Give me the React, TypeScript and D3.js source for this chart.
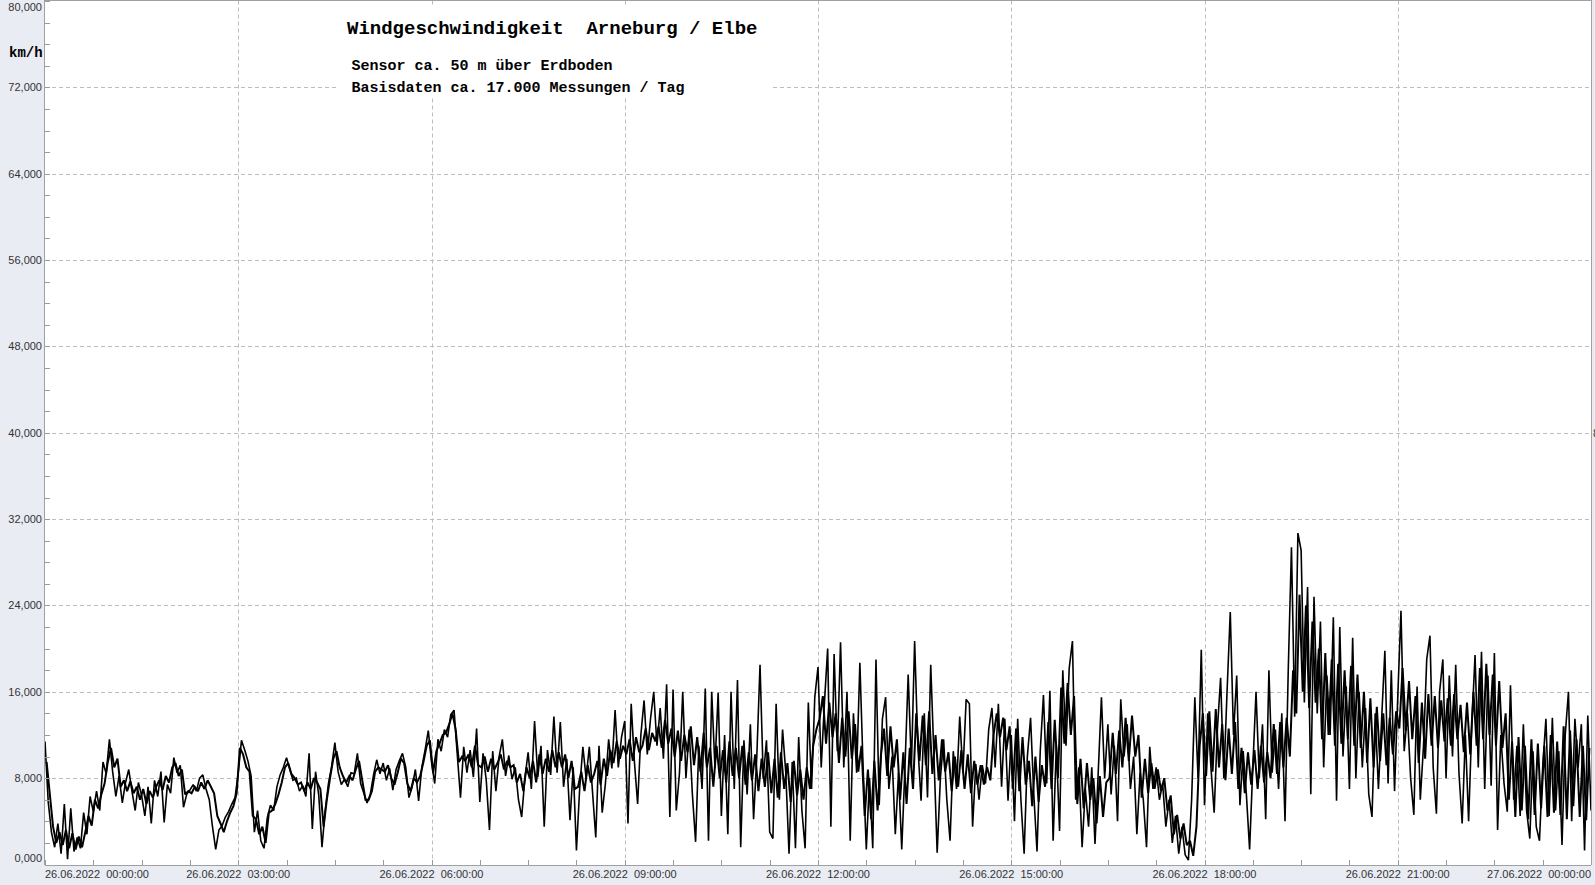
import React from 'react';
import * as d3 from 'd3';

// Sampling step of the series (hours)
const STEP_H = 0.05;
// The second pass of readings sits half a step later
const OFFSET_B_H = 0.025;

// Wind speed km/h (extremes / spike tips), one value per 0.05 h
const speed00_03 = [
  11.4, 5.8, 3.0, 1.6, 3.8, 1.0, 5.6, 0.5, 5.2, 1.2,
  2.5, 1.5, 4.8, 2.8, 6.3, 4.9, 6.8, 5.0, 9.5, 8.4,
  11.6, 8.6, 6.3, 8.2, 5.7, 7.6, 8.8, 6.8, 5.0, 7.6,
  6.4, 4.5, 7.2, 3.8, 7.8, 6.3, 8.6, 3.9, 7.4, 6.6,
  9.9, 8.5, 9.2, 5.3, 6.5, 6.9, 7.4, 6.8, 8.0, 8.3,
  7.0, 6.0, 3.5, 1.4, 3.2, 3.6, 4.4, 4.9, 5.6, 6.2,
];
const speed03_06 = [
  8.5, 11.5, 10.6, 9.6, 8.2, 3.0, 5.0, 2.2, 1.5, 4.3,
  5.5, 5.0, 7.2, 8.3, 9.0, 9.9, 8.8, 7.8, 8.0, 6.8,
  7.3, 6.3, 10.3, 3.3, 8.6, 6.4, 1.6, 5.0, 7.5, 9.1,
  11.3, 8.6, 7.4, 7.9, 7.2, 8.5, 8.4, 10.3, 7.5, 6.6,
  5.7, 6.5, 8.3, 9.7, 8.4, 9.4, 7.8, 8.9, 6.9, 8.8,
  9.6, 10.3, 9.0, 6.2, 7.2, 8.8, 5.9, 9.0, 10.6, 12.4,
];
const speed06_09 = [
  9.5, 7.5, 11.6, 10.5, 12.5, 11.8, 13.9, 14.3, 10.2, 6.2,
  10.9, 8.5, 10.6, 8.1, 12.6, 5.8, 10.3, 7.8, 3.2, 10.5,
  6.8, 10.0, 11.6, 8.2, 10.1, 7.9, 9.0, 6.0, 4.4, 8.0,
  10.4, 7.0, 13.3, 8.1, 11.0, 3.5, 10.6, 8.3, 13.7, 8.5,
  13.2, 7.2, 9.8, 4.1, 9.0, 1.3, 7.0, 10.9, 8.0, 10.9,
  6.7, 2.5, 11.0, 4.8, 7.5, 11.6, 8.9, 14.3, 9.0, 11.8,
];
const speed09_12 = [
  13.3, 3.8, 14.9, 9.5, 5.6, 12.0, 15.2, 10.2, 13.5, 16.0,
  11.0, 14.5, 9.8, 16.7, 4.4, 16.2, 5.0, 8.5, 16.0, 8.0,
  12.5, 6.5, 2.1, 11.0, 7.0, 16.3, 2.2, 16.0, 9.0, 15.9,
  4.5, 12.0, 2.8, 16.0, 7.0, 17.1, 1.6, 11.5, 6.5, 13.0,
  4.2, 10.0, 18.5, 8.0, 11.5, 3.0, 2.4, 14.9, 6.0, 12.5,
  8.5, 1.0, 9.5, 1.5, 11.8, 5.0, 1.5, 15.0, 7.0, 15.5,
];
const speed12_15 = [
  18.3, 9.0, 15.0, 20.0, 3.5, 19.5, 10.5, 20.6, 9.0, 16.0,
  2.2, 14.0, 8.5, 18.7, 9.0, 1.4, 8.0, 1.5, 19.0, 5.5,
  13.5, 15.5, 7.0, 10.0, 2.8, 8.5, 1.4, 9.0, 17.6, 9.0,
  20.7, 11.0, 5.9, 14.0, 6.2, 18.5, 10.0, 1.1, 8.0, 11.6,
  6.0, 2.2, 10.5, 7.0, 13.7, 8.5, 15.3, 14.9, 3.5, 9.3,
  6.0, 9.2, 7.5, 12.5, 14.5, 9.0, 14.9, 7.2, 13.5, 5.9,
];
const speed15_18 = [
  12.0, 4.0, 13.5, 6.0, 1.0, 10.0, 13.6, 6.5, 1.2, 10.5,
  15.7, 7.5, 16.1, 2.2, 11.0, 3.1, 18.0, 11.0, 18.2, 20.7,
  6.0, 9.0, 1.6, 7.0, 3.5, 9.0, 1.9, 8.5, 15.5, 8.0,
  13.0, 6.5, 11.0, 4.0, 15.3, 10.0, 13.0, 7.0, 10.0, 2.8,
  8.5, 6.0, 1.6, 10.9, 7.0, 9.0, 6.0, 7.5, 3.5, 6.0,
  2.0, 4.5, 1.0, 3.5, 0.9, 0.4, 6.0, 15.5, 8.0, 19.9,
];
const speed18_21 = [
  5.5, 14.0, 9.0, 4.8, 12.5, 17.3, 8.0, 16.0, 23.4, 12.0,
  17.5, 5.5, 10.5, 6.5, 1.4, 9.0, 16.0, 8.0, 13.0, 4.2,
  18.0, 8.5, 12.5, 7.0, 14.0, 4.0, 18.0, 29.4, 13.7, 30.7,
  29.1, 15.0, 25.7, 6.5, 24.8, 14.0, 22.5, 9.0, 17.5, 12.0,
  22.9, 5.9, 22.0, 10.0, 16.5, 7.0, 21.0, 8.0, 16.0, 9.0,
  14.5, 6.5, 4.4, 14.0, 7.0, 13.5, 19.8, 7.5, 18.0, 6.8,
];
const speed21_24 = [
  15.5, 23.5, 10.5, 14.0, 8.0, 4.6, 16.5, 6.0, 11.0, 19.0,
  21.2, 9.0, 4.7, 16.0, 19.0, 8.0, 17.5, 10.0, 18.5, 8.5,
  3.8, 12.0, 4.0, 13.0, 19.4, 9.0, 19.7, 7.0, 17.5, 7.3,
  19.6, 3.2, 12.0, 7.5, 4.9, 16.6, 6.0, 11.0, 4.5, 13.0,
  5.0, 2.4, 10.5, 3.5, 2.2, 9.0, 13.5, 4.5, 13.6, 5.0,
  10.5, 1.8, 12.0, 16.0, 4.0, 13.5, 9.0, 13.0, 1.3, 13.8,
  5.0,
];

// Second pass: readings of the dense core of the trace, one value per 0.05 h
const core00_03 = [
  9.5, 6.5, 3.5, 2.0, 3.0, 1.8, 3.2, 1.5, 2.9, 1.4,
  2.6, 1.6, 3.0, 4.5, 3.6, 6.0, 5.2, 6.5, 7.5, 9.5,
  10.8, 9.0, 9.8, 7.2, 7.8, 6.8, 7.7, 6.6, 7.2, 6.0,
  7.0, 5.6, 6.8, 6.2, 7.2, 7.8, 6.9, 8.2, 7.6, 9.0,
  9.4, 8.2, 8.8, 6.5, 6.8, 6.6, 7.2, 6.8, 7.6, 7.0,
  7.8, 7.2, 6.6, 4.5, 3.8, 3.0, 4.0, 4.8, 5.4, 6.6,
];
const core03_06 = [
  10.8, 10.2, 9.0, 8.6, 4.5, 4.2, 2.8, 3.5, 2.0, 4.8,
  5.0, 5.6, 6.5, 7.6, 9.0, 9.4, 8.4, 8.0, 7.4, 7.6,
  6.8, 7.6, 7.0, 8.0, 7.6, 7.0, 3.5, 6.0, 8.0, 9.8,
  10.5, 9.0, 8.2, 7.6, 8.2, 7.8, 8.8, 9.6, 7.8, 6.0,
  6.0, 6.8, 8.6, 9.0, 8.8, 8.6, 9.2, 8.0, 7.4, 8.5,
  9.8, 9.4, 7.5, 6.8, 8.0, 7.6, 8.2, 9.5, 11.0, 11.5,
];
const core06_09 = [
  8.5, 10.5, 11.2, 12.0, 12.2, 13.0, 14.0, 12.5, 9.5, 10.0,
  9.6, 10.2, 9.0, 11.0, 9.2, 9.0, 10.0, 8.6, 9.8, 8.8,
  9.4, 10.2, 8.8, 9.6, 9.0, 9.2, 7.6, 8.4, 6.8, 9.0,
  8.0, 9.6, 7.6, 10.2, 8.4, 9.8, 8.6, 10.6, 9.0, 10.4,
  9.0, 10.2, 8.0, 9.6, 7.0, 7.2, 8.6, 6.8, 9.2, 7.6,
  8.4, 9.6, 7.4, 9.8, 8.2, 10.6, 9.4, 11.4, 9.8, 11.0,
];
const core09_12 = [
  10.2, 11.6, 9.6, 11.8, 10.4, 11.0, 12.6, 10.6, 12.2, 11.4,
  12.8, 10.8, 13.4, 11.2, 12.6, 10.0, 12.4, 9.6, 12.0, 10.4,
  12.8, 9.2, 11.8, 8.6, 12.2, 9.0, 10.8, 7.2, 11.0, 8.0,
  10.6, 7.6, 11.4, 8.2, 10.8, 8.0, 11.0, 7.4, 10.4, 7.8,
  10.2, 6.8, 9.8, 7.2, 10.4, 6.6, 9.8, 6.2, 10.4, 7.0,
  9.4, 5.8, 9.6, 6.4, 8.8, 6.0, 9.0, 7.0, 11.0, 12.5,
];
const core12_15 = [
  13.5, 15.6, 11.2, 15.0, 11.8, 14.0, 9.4, 13.6, 10.0, 14.2,
  9.8, 13.0, 8.6, 11.0, 4.5, 8.8, 4.2, 9.6, 5.0, 10.0,
  12.6, 8.2, 12.8, 9.0, 11.6, 6.0, 10.4, 5.6, 10.8, 7.0,
  14.0, 9.6, 13.8, 9.2, 14.2, 8.4, 12.0, 7.8, 11.6, 8.6,
  10.4, 6.8, 10.0, 7.2, 10.6, 7.0, 10.2, 6.6, 9.6, 7.4,
  9.2, 7.4, 9.0, 7.8, 12.0, 14.0, 11.8, 13.6, 10.6, 12.8,
];
const core15_18 = [
  7.0, 12.6, 6.8, 11.8, 7.4, 9.6, 5.4, 10.0, 5.8, 9.2,
  7.2, 13.2, 7.0, 13.4, 8.0, 16.4, 11.2, 16.8, 12.0, 15.6,
  5.6, 9.8, 5.2, 9.4, 6.0, 8.0, 3.8, 8.2, 4.4, 7.6,
  8.0, 12.2, 8.4, 12.4, 9.0, 13.6, 9.6, 13.8, 10.0, 12.0,
  6.2, 9.8, 6.6, 9.4, 7.0, 8.8, 6.8, 8.0, 5.0, 6.4,
  2.8, 4.6, 2.4, 3.8, 1.8, 2.2, 0.8, 3.5, 11.0, 14.0,
];
const core18_21 = [
  8.2, 14.2, 8.6, 14.4, 9.0, 13.0, 7.8, 12.6, 8.4, 13.2,
  7.0, 10.8, 6.6, 10.4, 7.4, 10.6, 7.0, 11.0, 7.6, 10.4,
  8.0, 13.0, 8.4, 13.2, 9.0, 13.6, 10.0, 18.0, 14.0, 25.0,
  16.0, 24.0, 14.5, 22.5, 15.0, 20.0, 11.6, 19.6, 12.0, 19.0,
  11.0, 18.6, 11.2, 18.0, 11.6, 18.4, 11.0, 17.6, 10.8, 16.0,
  9.4, 15.4, 9.0, 14.6, 9.6, 14.0, 9.2, 13.6, 10.2, 14.2,
];
const core21_24 = [
  12.6, 18.2, 12.4, 17.0, 11.6, 15.6, 9.4, 15.0, 9.8, 15.8,
  11.0, 15.6, 10.8, 15.2, 11.4, 15.4, 11.0, 15.8, 11.6, 14.8,
  10.4, 15.0, 10.2, 16.0, 11.0, 18.2, 11.6, 18.6, 12.0, 17.6,
  11.0, 17.0, 10.8, 14.0, 6.0, 11.4, 4.4, 11.8, 5.0, 11.0,
  4.2, 11.6, 4.6, 11.2, 5.2, 11.0, 4.4, 12.0, 4.8, 11.4,
  4.6, 12.8, 4.2, 12.4, 5.4, 11.6, 4.4, 11.0, 4.1, 10.8,
];

const yTickValues = [0, 8, 16, 24, 32, 40, 48, 56, 64, 72, 80];
const yTickLabels = ['0,000', '8,000', '16,000', '24,000', '32,000', '40,000', '48,000', '56,000', '64,000', '72,000', '80,000'];
const xMajorHours = [0, 3, 6, 9, 12, 15, 18, 21, 24];
const xDateLabels = ['26.06.2022', '26.06.2022', '26.06.2022', '26.06.2022', '26.06.2022', '26.06.2022', '26.06.2022', '26.06.2022', '27.06.2022'];
const xTimeLabels = ['00:00:00', '03:00:00', '06:00:00', '09:00:00', '12:00:00', '15:00:00', '18:00:00', '21:00:00', '00:00:00'];

const W = 1595;
const H = 885;

export default function App() {
  const left = 45;
  const right = 1591;
  const top = 0.5;
  const bottom = 865;
  const x = d3.scaleLinear().domain([0, 24]).range([left, right]);
  const y = d3.scaleLinear().domain([0, 80]).range([864.5, 1]);

  const speed = [
    ...speed00_03, ...speed03_06, ...speed06_09, ...speed09_12,
    ...speed12_15, ...speed15_18, ...speed18_21, ...speed21_24,
  ];
  const core = [
    ...core00_03, ...core03_06, ...core06_09, ...core09_12,
    ...core12_15, ...core15_18, ...core18_21, ...core21_24,
  ];
  const ptsA: [number, number][] = speed.map((v, i) => [i * STEP_H, v]);
  const ptsB: [number, number][] = core.map((v, i) => [i * STEP_H + OFFSET_B_H, v]);
  const line = d3.line<[number, number]>().x((d) => x(d[0])).y((d) => y(d[1]));

  const yMinor = d3.range(0, 80.001, 2);
  const xMinor = d3.range(0, 24.001, 0.75);
  const labelFont = "'Liberation Sans', Arial, sans-serif";
  const monoFont = "'Liberation Mono', 'Courier New', monospace";

  return (
    <svg width={W} height={H} style={{ position: 'absolute', left: 0, top: 0, display: 'block' }}>
      <defs>
        <clipPath id="plotclip">
          <rect x={left} y={0} width={right - left} height={bottom} />
        </clipPath>
      </defs>
      <rect x={0} y={0} width={W} height={H} fill="#e9ecf3" />
      <rect x={left} y={top} width={right - left} height={bottom - top} fill="#ffffff" />

      {/* grid */}
      {yTickValues.filter((v) => v > 0 && v < 80).map((v) => (
        <line key={'gy' + v} x1={left} x2={right} y1={Math.round(y(v)) + 0.5} y2={Math.round(y(v)) + 0.5}
          stroke="#bdbdbd" strokeDasharray="4,3" strokeWidth={1} />
      ))}
      {xMajorHours.filter((h) => h > 0 && h < 24).map((h) => (
        <line key={'gx' + h} x1={Math.round(x(h)) + 0.5} x2={Math.round(x(h)) + 0.5} y1={top} y2={bottom}
          stroke="#bdbdbd" strokeDasharray="4,3" strokeWidth={1} />
      ))}

      {/* title box */}
      <rect x={338} y={5} width={434} height={91} fill="#ffffff" />
      <text x={347} y={34} fontFamily={monoFont} fontWeight="bold" fontSize={19} fill="#000" style={{ whiteSpace: 'pre' }}>
        {'Windgeschwindigkeit  Arneburg / Elbe'}
      </text>
      <text x={351.5} y={70} fontFamily={monoFont} fontWeight="bold" fontSize={15} fill="#000" style={{ whiteSpace: 'pre' }}>
        {'Sensor ca. 50 m über Erdboden'}
      </text>
      <text x={351.5} y={92} fontFamily={monoFont} fontWeight="bold" fontSize={15} fill="#000" style={{ whiteSpace: 'pre' }}>
        {'Basisdaten ca. 17.000 Messungen / Tag'}
      </text>

      {/* data */}
      <g clipPath="url(#plotclip)">
        <path d={line(ptsB) || ''} fill="none" stroke="#000" strokeWidth={2.0} strokeLinejoin="miter" strokeMiterlimit={2} />
        <path d={line(ptsA) || ''} fill="none" stroke="#000" strokeWidth={1.6} strokeLinejoin="miter" strokeMiterlimit={2} />
      </g>

      {/* ticks */}
      {yMinor.map((v) => (
        <line key={'ty' + v} x1={left} x2={left + 5} y1={Math.round(y(v)) + 0.5} y2={Math.round(y(v)) + 0.5} stroke="#9a9a9a" />
      ))}
      {xMinor.map((h) => (
        <line key={'tx' + h} x1={Math.round(x(h)) + 0.5} x2={Math.round(x(h)) + 0.5} y1={bottom} y2={bottom - 5} stroke="#9a9a9a" />
      ))}

      {/* frame */}
      <line x1={left} x2={right} y1={top} y2={top} stroke="#a0a0a0" />
      <line x1={left - 0.5} x2={left - 0.5} y1={0} y2={bottom} stroke="#a0a0a0" />
      <line x1={left} x2={right} y1={bottom + 0.5} y2={bottom + 0.5} stroke="#a0a0a0" />
      <line x1={right + 0.5} x2={right + 0.5} y1={0} y2={bottom} stroke="#a0a0a0" />

      {/* y labels */}
      {yTickValues.map((v, i) => {
        let yy = y(v);
        if (v === 80) yy += 6.5;
        if (v === 0) yy -= 6.5;
        return (
          <text key={'ly' + v} x={42} y={yy} dy="0.35em" textAnchor="end" fontFamily={labelFont} fontSize={11} fill="#333">
            {yTickLabels[i]}
          </text>
        );
      })}
      <text x={9} y={57} fontFamily={monoFont} fontWeight="bold" fontSize={14} fill="#000">km/h</text>
      <text x={1593} y={433} dy="0.35em" fontFamily={labelFont} fontSize={11} fill="#333">8</text>

      {/* x labels */}
      {xMajorHours.map((h, i) => {
        const anchor = i === 0 ? 'start' : i === xMajorHours.length - 1 ? 'end' : 'middle';
        return (
          <text key={'lx' + h} x={x(h)} y={874} dy="0.35em" textAnchor={anchor} fontFamily={labelFont} fontSize={11} fill="#333" style={{ whiteSpace: 'pre' }}>
            {xDateLabels[i] + '  ' + xTimeLabels[i]}
          </text>
        );
      })}
    </svg>
  );
}
